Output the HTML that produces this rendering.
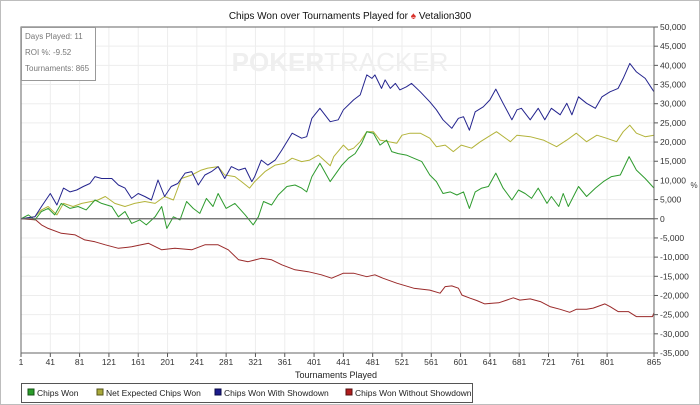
<!DOCTYPE html>
<html><head><meta charset="utf-8"><style>
html,body{margin:0;padding:0;background:#fff;}
svg{display:block;font-family:"Liberation Sans",sans-serif;}
</style></head><body>
<svg id="chart" width="700" height="405" viewBox="0 0 700 405">
<rect x="0.5" y="0.5" width="699" height="404" fill="#fff" stroke="#bdbdbd"/>
<text x="350" y="19" font-size="10" text-anchor="middle" fill="#111">Chips Won over Tournaments Played for <tspan fill="#d9302a">♠</tspan> Vetalion300</text>
<g id="grid"></g>
<text x="340" y="71" font-size="26" text-anchor="middle" fill="#efefef" font-weight="bold">POKER<tspan font-weight="normal">TRACKER</tspan></text>
<g id="series"></g>
<g id="axes"></g>
<g>
<rect x="21.5" y="27.5" width="74" height="53" fill="#fff" stroke="#999"/>
<text x="25" y="39" font-size="8" fill="#777">Days Played: 11</text>
<text x="25" y="55" font-size="8" fill="#777">ROI %: -9.52</text>
<text x="25" y="71" font-size="8" fill="#777">Tournaments: 865</text>
</g>
<text x="336" y="378" font-size="9" text-anchor="middle" fill="#222">Tournaments Played</text>
<text x="694" y="188" font-size="8" text-anchor="middle" fill="#444">%</text>
<g font-size="8.5">
<rect x="21.5" y="383.5" width="451" height="19" fill="#fff" stroke="#555"/>
<g><rect x="28" y="389" width="6" height="6" fill="#2a9d2a" stroke="#145214"/><text x="37" y="396" fill="#222">Chips Won</text></g>
<g><rect x="97" y="389" width="6" height="6" fill="#a9a93a" stroke="#55551a"/><text x="106" y="396" fill="#222">Net Expected Chips Won</text></g>
<g><rect x="215" y="389" width="6" height="6" fill="#1c1c8c" stroke="#0a0a44"/><text x="224" y="396" fill="#222">Chips Won With Showdown</text></g>
<g><rect x="346" y="389" width="6" height="6" fill="#b11c1c" stroke="#551010"/><text x="355" y="396" fill="#222">Chips Won Without Showdown</text></g>
</g>
</svg>
<script>
const xTicks=[1,41,81,121,161,201,241,281,321,361,401,441,481,521,561,601,641,681,721,761,801,865];
const yTicks=[50000,45000,40000,35000,30000,25000,20000,15000,10000,5000,0,-5000,-10000,-15000,-20000,-25000,-30000,-35000];
const blueT=[1,20,29,41,50,59,68,77,86,95,102,111,125,134,143,152,161,170,179,188,197,206,215,225,234,243,252,261,270,279,288,298,307,316,320,329,338,348,357,371,384,391,398,409,423,434,441,455,464,473,480,484,493,498,505,512,518,527,534,546,559,568,577,589,598,605,613,621,632,641,649,659,671,678,684,696,707,716,725,737,746,753,762,773,785,794,805,816,823,832,841,853,865];
const blueV=[0,0.5,3.2,6.6,3.6,8,7,7.5,8.4,9.2,11,10.5,10.5,8.8,8,5.3,6.6,5.8,4.9,10.1,5.8,8.4,9.2,11.9,12.3,8.8,11.4,12.3,13.6,10.5,13.6,12.7,13.2,9.7,11,15.3,14,15.3,17.9,22.3,21,21.4,26.2,28.8,25.3,25.8,28.4,31,32.3,37.5,36.6,37.5,34,36.2,34,35.3,33.6,34.4,35.3,33.1,30.5,28.4,25.8,23.6,26.2,26.6,23.1,27.9,29.2,31,33.8,30.1,25.8,28.4,28.8,25.8,28.8,25.8,28.8,27.1,30.1,27.1,31.8,30.1,28.8,31.8,33.1,34,36.6,40.5,38.3,36.6,33.1];
const yellowT=[1,20,29,38,50,59,72,84,97,106,116,129,143,156,170,184,197,209,220,234,247,256,270,279,293,302,313,320,334,348,361,371,384,395,407,423,428,441,448,455,464,473,482,491,503,514,521,532,546,559,568,580,591,602,616,628,639,650,669,678,696,714,732,746,759,773,787,800,814,823,832,841,853,865];
const yellowV=[0,0.5,2.3,3.2,1,4,3.2,4,4.5,4.9,5.8,4,3.2,4,4.5,4,5.8,4.9,10.5,11.4,12.7,13.2,13.6,11.4,11,9.7,8,9.7,12.3,14,14.5,15.8,14.9,15.3,16.6,13.8,16.2,19.2,17.9,18.4,20.1,22.7,22.7,20.5,20.1,19.7,21.8,22.3,22.3,21,18.8,19.2,17.5,19.2,18.4,20.1,21.4,22.7,20.1,21.8,21.4,20.5,18.8,20.5,22.3,20.1,21.8,21,20.1,22.7,24.4,22.3,21.4,21.8];
const greenT=[1,11,20,29,38,47,56,68,79,90,102,111,125,134,143,152,163,172,184,193,200,209,218,227,236,245,254,263,270,281,293,307,318,325,332,343,352,364,375,384,391,398,409,423,439,448,457,466,473,482,491,500,507,516,527,537,548,559,568,577,587,596,605,613,621,630,639,649,659,671,680,689,698,707,719,725,735,741,748,762,773,785,796,807,819,831,841,853,865];
const greenV=[0,1,-0.3,1.9,2.7,1,4,2.7,3.2,2.3,4.9,4,3.2,0.5,1.9,-1.2,-0.3,-1.6,0.5,3.2,-2.5,0.5,-0.3,4.5,2.7,1.4,5.3,3.2,6.6,2.7,4,1,-1.6,0.5,4.5,3.6,6.2,8.4,8.8,8,7,11,14.5,9.7,14,15.8,17,19.7,22.7,22.3,19.2,20.5,17.5,17,16.6,15.8,14.9,11.4,9.7,6.6,7,6.2,7,2.7,7,8,8.4,11.9,8,4.9,7.5,6.6,5.3,8,4,5.8,3.2,6.6,3.2,8.4,5.8,8,9.7,11,11.4,16.2,12.7,10.5,8];
const redT=[1,21,29,38,56,75,88,102,116,134,152,175,193,211,234,252,270,284,298,311,329,343,357,375,393,411,425,441,455,473,484,495,514,537,559,573,580,589,598,603,614,623,634,646,653,664,673,682,696,710,723,737,750,759,773,782,798,805,816,830,841,853,863,865];
const redV=[0,-0.3,-1.6,-2.5,-3.8,-4.2,-5.5,-6,-6.8,-7.7,-7.3,-6.4,-8.1,-7.7,-8.1,-6.8,-6.8,-8.1,-10.7,-11.2,-10.3,-10.7,-12,-13.3,-13.8,-14.6,-15.5,-14.2,-14.2,-15.1,-14.6,-15.5,-16.8,-18.1,-18.6,-19.4,-17.7,-17.5,-18.1,-19.9,-20.7,-21.3,-22.2,-22,-21.9,-21.2,-20.6,-21.2,-20.9,-21.6,-22.9,-23.6,-24.4,-23.6,-23.6,-23.3,-22.2,-22.9,-24.2,-24.2,-25.5,-25.5,-25.5,-24.5];

const NS='http://www.w3.org/2000/svg';
const L=21,R=654,T=27,B=353;
function xs(t){return L+(t-1)/(865-1)*(R-L);}
function ys(v){return B-(v-(-35000))/(50000-(-35000))*(B-T);}
function mk(tag,attrs,parent){const e=document.createElementNS(NS,tag);for(const k in attrs)e.setAttribute(k,attrs[k]);parent.appendChild(e);return e;}
const grid=document.getElementById('grid'),axes=document.getElementById('axes'),series=document.getElementById('series');
yTicks.forEach(v=>{
  const g=mk('line',{x1:L,x2:R,y1:ys(v),y2:ys(v),stroke:'#ededed','stroke-width':1},grid);
  
  
  const tk=mk('line',{x1:R,x2:R+4,y1:ys(v),y2:ys(v),stroke:'#555'},axes);
  
  
  const tx=mk('text',{x:R+6,y:ys(v)+3,'font-size':8.5,fill:'#333'},axes);
  tx.textContent=v.toLocaleString('en-US');
  
  
});
xTicks.forEach(t=>{
  const g=mk('line',{x1:xs(t),x2:xs(t),y1:T,y2:B,stroke:'#ededed'},grid);
  
  
  const tk=mk('line',{x1:xs(t),x2:xs(t),y1:B,y2:B+4,stroke:'#555'},axes);
  
  
  const tx=mk('text',{x:xs(t),y:B+12,'font-size':8.5,fill:'#333','text-anchor':'middle'},axes);
  tx.textContent=t;
  
  
});
const frame=mk('path',{d:`M${L},${T}H${R}V${B}H${L}Z`,fill:'none',stroke:'#666'},axes);


const zero=mk('line',{x1:L,x2:R,y1:ys(0),y2:ys(0),stroke:'#666','stroke-width':1.3},axes);


function line(T_,V_,color,name){
  const pts=T_.map((t,i)=>xs(t).toFixed(1)+','+ys(V_[i]*1000).toFixed(1)).join(' ');
  const p=mk('polyline',{points:pts,fill:'none',stroke:color,'stroke-width':1,'stroke-linejoin':'round'},series);
  
  
}
line(redT,redV,'#9a2a2a','line-without-showdown');
line(yellowT,yellowV,'#b3b33a','line-net-expected');
line(greenT,greenV,'#2e9b2e','line-chips-won');
line(blueT,blueV,'#24248e','line-with-showdown');
</script>
</body></html>
